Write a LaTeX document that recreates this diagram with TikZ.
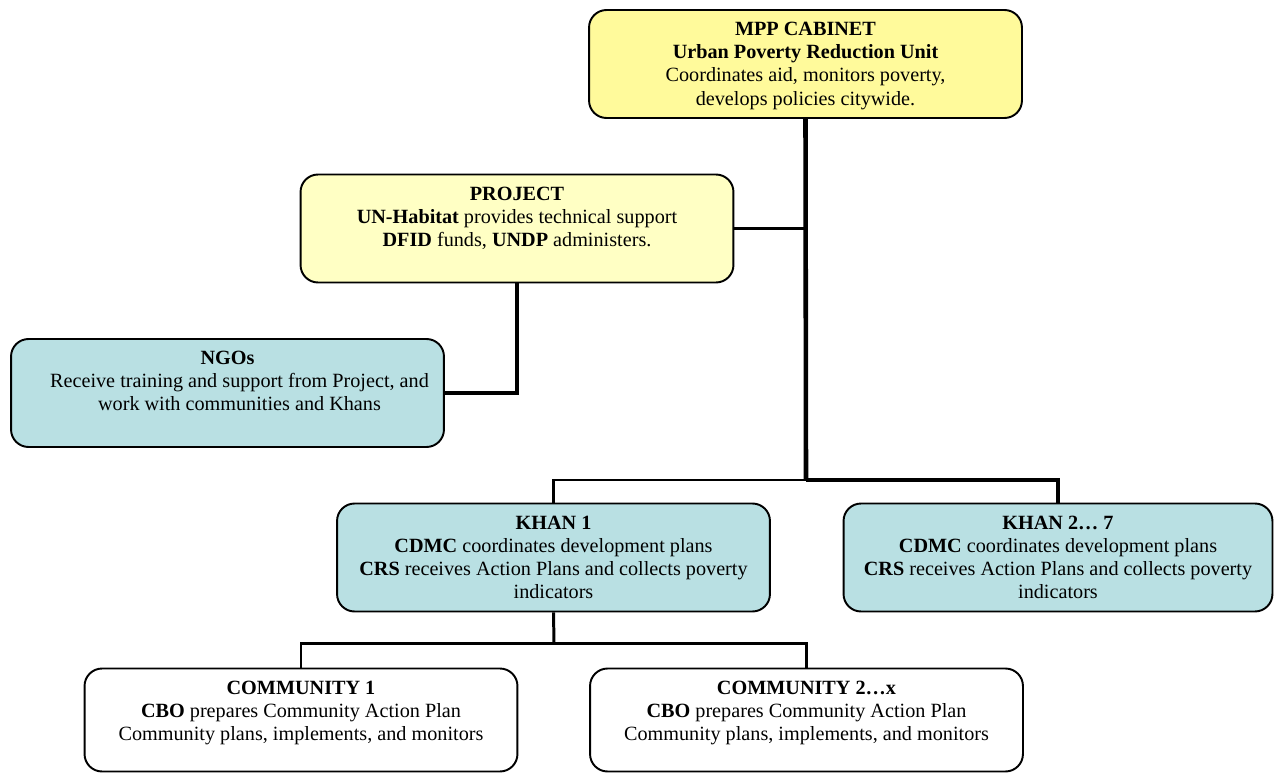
\documentclass[tikz,border=0pt]{standalone}
\usepackage{fontspec}
\setmainfont{Liberation Serif}
\usetikzlibrary{positioning}
\definecolor{cabinet}{RGB}{255,250,155}
\definecolor{projfill}{RGB}{255,255,196}
\definecolor{khanfill}{RGB}{185,224,227}

\begin{document}
\begin{tikzpicture}[x=0.02cm, y=-0.02cm,
  orgbox/.style={draw, line width=1.1pt, rounded corners=0.35cm, minimum width=8.66cm, minimum height=2.16cm},
  boxtext/.style={inner sep=0pt, align=center, font=\fontsize{11.5}{13.2}\selectfont},
  link/.style={line width=1.7pt},
  trunk/.style={line width=2.6pt}]
\useasboundingbox (0,0) rectangle (1275,774);

% boxes
\node[orgbox, fill=cabinet] (mpp) at (805.5,64) {};
\node[orgbox, fill=projfill] (project) at (517,228.5) {};
\node[orgbox, fill=khanfill] (ngo) at (227.5,393) {};
\node[orgbox, fill=khanfill] (khan1) at (553.5,557.5) {};
\node[orgbox, fill=khanfill, minimum width=8.58cm] (khan2) at (1058,557.5) {};
\node[orgbox, minimum height=2.06cm] (com1) at (301,720) {};
\node[orgbox, minimum height=2.06cm] (com2) at (806.5,720) {};

% texts
\node[boxtext, below=7.3pt of mpp.north] (mpp-t) {\textbf{MPP CABINET}\\ \textbf{Urban Poverty Reduction Unit}\\ Coordinates aid, monitors poverty,\\ develops policies citywide.};
\node[boxtext, below=7.3pt of project.north] (project-t) {\textbf{PROJECT}\\ \textbf{UN-Habitat} provides technical support\\ \textbf{DFID} funds, \textbf{UNDP} administers.};
\node[boxtext, below=7.3pt of ngo.north] (ngo-t) {\textbf{NGOs}\\ \hspace*{0.48cm}Receive training and support from Project, and\\ \hspace*{0.48cm}work with communities and Khans};
\node[boxtext, below=7.3pt of khan1.north] (khan1-t) {\textbf{KHAN 1}\\ \textbf{CDMC} coordinates development plans\\ \textbf{CRS} receives Action Plans and collects poverty\\ indicators};
\node[boxtext, below=7.3pt of khan2.north] (khan2-t) {\textbf{KHAN 2… 7}\\ \textbf{CDMC} coordinates development plans\\ \textbf{CRS} receives Action Plans and collects poverty\\ indicators};
\node[boxtext, below=7.3pt of com1.north] (com1-t) {\textbf{COMMUNITY 1}\\ \textbf{CBO} prepares Community Action Plan\\ Community plans, implements, and monitors};
\node[boxtext, below=7.3pt of com2.north] (com2-t) {\textbf{COMMUNITY 2…x}\\ \textbf{CBO} prepares Community Action Plan\\ Community plans, implements, and monitors};

% connectors
\coordinate (split) at (806,480);
\coordinate (csplit) at (554,643);
\draw[trunk] (mpp.south) -- (split);
\draw[link] (project.east) -- (project.east -| mpp.south);
\draw[trunk] (project.south) |- (ngo.east);
\draw[link] (split) -| (khan1.north);
\draw[trunk] (split) -| (khan2.north);
\draw[link] (khan1.south) -- (csplit);
\draw[link] (csplit) -| (com1.north);
\draw[link] (csplit) -| (com2.north);
\end{tikzpicture}
\end{document}
